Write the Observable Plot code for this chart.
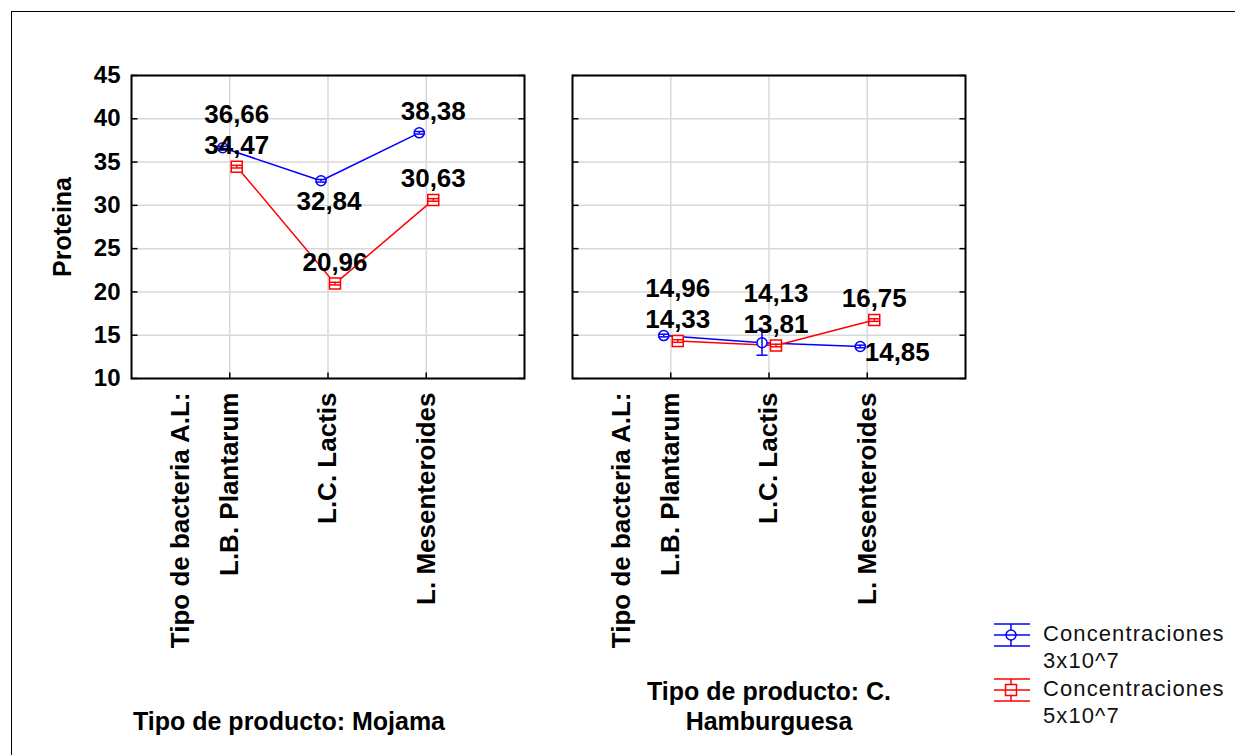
<!DOCTYPE html>
<html>
<head>
<meta charset="utf-8">
<script src="https://cdn.jsdelivr.net/npm/d3@7"></script>
<script src="https://cdn.jsdelivr.net/npm/@observablehq/plot@0.6"></script>
<style>
  html, body { margin: 0; padding: 0; background: #fff; }
  #wrap { position: relative; width: 1235px; height: 755px; overflow: hidden; background: #fff; }
  #border { position: absolute; left: 11px; top: 11px; width: 1400px; height: 900px; border-left: 1.5px solid #000; border-top: 1.5px solid #000; pointer-events: none; }
  #legend { position: absolute; left: 993px; top: 620px; font-family: "Liberation Sans", Arial, sans-serif; font-size: 22px; color: #111; }
  .item { display: flex; align-items: flex-start; margin-bottom: 1px; }
  .item svg { flex: none; margin-right: 12px; margin-top: 2px; }
  .item div { line-height: 27px; letter-spacing: 1.1px; }
</style>
</head>
<body>
<div id="wrap">
  <div id="chart"></div>
  <div id="border"></div>
  <div id="legend"></div>
</div>
<script>
// ---------- data ----------
const products = ["Mojama", "C. Hamburguesa"];
const productTitles = ["Tipo de producto: Mojama", "Tipo de producto: C.\nHamburguesa"];
const bacteria = ["L.B. Plantarum", "L.C. Lactis", "L. Mesenteroides"];
const factorLabel = "Tipo de bacteria A.L:";
const yLabel = "Proteina";
const seriesNames = ["Concentraciones\n3x10^7", "Concentraciones\n5x10^7"];
const seriesColors = ["#0000ff", "#ff0000"];
const yTicks = [10, 15, 20, 25, 30, 35, 40, 45];

// means
const blueMojama = [36.66, 32.84, 38.38];
const redMojama  = [34.47, 20.96, 30.63];
const blueHamb   = [14.96, 14.13, 13.70];
const redHamb    = [14.33, 13.81, 16.75];
// half-widths of error bars (estimated)
const blueMojamaErr = [0.15, 0.15, 0.15];
const redMojamaErr  = [0.15, 0.15, 0.15];
const blueHambErr   = [0.15, 1.44, 0.15];
const redHambErr    = [0.15, 0.15, 0.15];
// value labels as printed
const blueMojamaLbl = ["36,66", "32,84", "38,38"];
const redMojamaLbl  = ["34,47", "20,96", "30,63"];
const blueHambLbl   = ["14,96", "14,13", "14,85"];
const redHambLbl    = ["14,33", "13,81", "16,75"];
// label placement class
const blueMojamaPlace = ["stacked", "below", "above"];
const redMojamaPlace  = ["above", "above", "above"];
const blueHambPlace   = ["stacked", "stacked", "right"];
const redHambPlace    = ["above", "above", "above"];

// ---------- build table ----------
const table = {
  [products[0]]: [[blueMojama, blueMojamaErr, blueMojamaLbl, blueMojamaPlace], [redMojama, redMojamaErr, redMojamaLbl, redMojamaPlace]],
  [products[1]]: [[blueHamb, blueHambErr, blueHambLbl, blueHambPlace], [redHamb, redHambErr, redHambLbl, redHambPlace]]
};
const rows = [];
for (const p of products) {
  table[p].forEach(([vals, errs, lbls, places], s) => {
    vals.forEach((v, i) => {
      rows.push({product: p, series: s, x: i + 1, y: v, lo: v - errs[i], hi: v + errs[i],
                 label: lbls[i], place: places[i], redY: table[p][1][0][i]});
    });
  });
}
const OFF = 7;
const S = [rows.filter(d => d.series === 0), rows.filter(d => d.series === 1)];
const dxs = [-OFF, OFF];

const capSymbol = {draw(c) { c.moveTo(-5.5, 0); c.lineTo(5.5, 0); }};
const tickL = {draw(c) { c.moveTo(0, 0); c.lineTo(6, 0); }};
const tickR = {draw(c) { c.moveTo(-6, 0); c.lineTo(0, 0); }};
const tickB = {draw(c) { c.moveTo(0, 0); c.lineTo(0, -6); }};

const font = {fontWeight: "bold", fill: "black"};
const marks = [
  Plot.gridY({ticks: yTicks, stroke: "#d8d8d8", strokeOpacity: 1, strokeWidth: 1.5}),
  Plot.gridX({ticks: bacteria.map((b, i) => i + 1), stroke: "#d8d8d8", strokeOpacity: 1, strokeWidth: 1.5}),
];
S.forEach((data, s) => {
  marks.push(Plot.line(data, {x: "x", y: "y", fx: "product", stroke: seriesColors[s], strokeWidth: 1.5, dx: dxs[s]}));
});
marks.push(Plot.dot(S[0], {x: "x", y: "y", fx: "product", r: 5, stroke: seriesColors[0], fill: "white", strokeWidth: 1.5, dx: dxs[0]}));
marks.push(Plot.dot(S[1], {x: "x", y: "y", fx: "product", r: 6.2, symbol: "square", stroke: seriesColors[1], fill: "white", strokeWidth: 1.5, dx: dxs[1]}));
S.forEach((data, s) => {
  marks.push(Plot.ruleX(data, {x: "x", y1: "lo", y2: "hi", fx: "product", stroke: seriesColors[s], strokeWidth: 1.5, dx: dxs[s]}));
  marks.push(Plot.dot(data, {x: "x", y: "lo", fx: "product", symbol: capSymbol, stroke: seriesColors[s], fill: "none", strokeWidth: 1.5, dx: dxs[s]}));
  marks.push(Plot.dot(data, {x: "x", y: "hi", fx: "product", symbol: capSymbol, stroke: seriesColors[s], fill: "none", strokeWidth: 1.5, dx: dxs[s]}));
});
// value labels
const lblStyle = {...font, fontSize: 26, fx: "product", text: "label", x: "x"};
marks.push(Plot.text(rows.filter(d => d.place === "above"), {...lblStyle, y: "y", dx: 7, dy: -21}));
marks.push(Plot.text(rows.filter(d => d.place === "below"), {...lblStyle, y: "y", dx: 1, dy: 21}));
marks.push(Plot.text(rows.filter(d => d.place === "stacked"), {...lblStyle, y: "redY", dx: 7, dy: -52}));
marks.push(Plot.text(rows.filter(d => d.place === "right"), {...lblStyle, y: "y", dx: 30, dy: 6}));
// frame and inward ticks
marks.push(Plot.frame({stroke: "black", strokeWidth: 2}));
marks.push(Plot.dot(yTicks, {y: d => d, frameAnchor: "left", symbol: tickL, stroke: "black", fill: "none", strokeWidth: 1.5}));
marks.push(Plot.dot(yTicks, {y: d => d, frameAnchor: "right", symbol: tickR, stroke: "black", fill: "none", strokeWidth: 1.5}));
marks.push(Plot.dot(bacteria.map((b, i) => i + 1), {x: d => d, frameAnchor: "bottom", symbol: tickB, stroke: "black", fill: "none", strokeWidth: 1.5}));
// axes
marks.push(Plot.axisY({ticks: yTicks, tickSize: 0, tickPadding: 11, fontSize: 24, ...font, label: null}));
const xTickPos = [0.5, ...bacteria.map((b, i) => i + 1)];
marks.push(Plot.axisX({ticks: xTickPos, tickFormat: d => d === 0.5 ? factorLabel : bacteria[d - 1],
  tickRotate: -90, tickSize: 0, tickPadding: 14, fontSize: 26, ...font, label: null}));
// y label and panel titles
marks.push(Plot.text([yLabel], {fx: () => products[0], frameAnchor: "left", text: d => d, rotate: -90, textAnchor: "middle", dx: -69, fontSize: 25, ...font}));
marks.push(Plot.text([productTitles[0]], {fx: () => products[0], frameAnchor: "bottom", text: d => d, textAnchor: "middle", dx: -39, dy: 351, lineAnchor: "bottom", lineHeight: 1.2, fontSize: 25, ...font}));
marks.push(Plot.text([productTitles[1]], {fx: () => products[1], frameAnchor: "bottom", text: d => d, textAnchor: "middle", dx: 0, dy: 351, lineAnchor: "bottom", lineHeight: 1.2, fontSize: 25, ...font}));

const chart = Plot.plot({
  width: 1235,
  height: 755,
  marginLeft: 131,
  marginRight: 270,
  marginTop: 75,
  marginBottom: 377,
  style: {background: "white", fontFamily: "'Liberation Sans', Arial, sans-serif", overflow: "visible"},
  fx: {domain: products, paddingInner: 0.109, paddingOuter: 0, axis: null, label: null},
  x: {domain: [0, bacteria.length + 1]},
  y: {domain: [yTicks[0], yTicks[yTicks.length - 1]]},
  marks
});
document.getElementById("chart").appendChild(chart);

// legend
const legend = document.getElementById("legend");
seriesNames.forEach((name, s) => {
  const item = document.createElement("div");
  item.className = "item";
  const c = seriesColors[s];
  const marker = s === 0
    ? `<circle cx="18" cy="13" r="5" fill="white" stroke="${c}" stroke-width="1.5"/>`
    : `<rect x="12.5" y="7.5" width="11" height="11" fill="white" stroke="${c}" stroke-width="1.5"/>`;
  item.innerHTML = `<svg width="38" height="28" viewBox="0 0 38 28">
    <line x1="1" x2="37" y1="2" y2="2" stroke="${c}" stroke-width="1.5"/>
    <line x1="1" x2="37" y1="24" y2="24" stroke="${c}" stroke-width="1.5"/>
    <line x1="18" x2="18" y1="2" y2="24" stroke="${c}" stroke-width="1.5"/>
    ${marker}
    <line x1="1" x2="37" y1="13" y2="13" stroke="${c}" stroke-width="1.5"/>
  </svg><div>${name.replace("\n", "<br>")}</div>`;
  legend.appendChild(item);
});
</script>
</body>
</html>
